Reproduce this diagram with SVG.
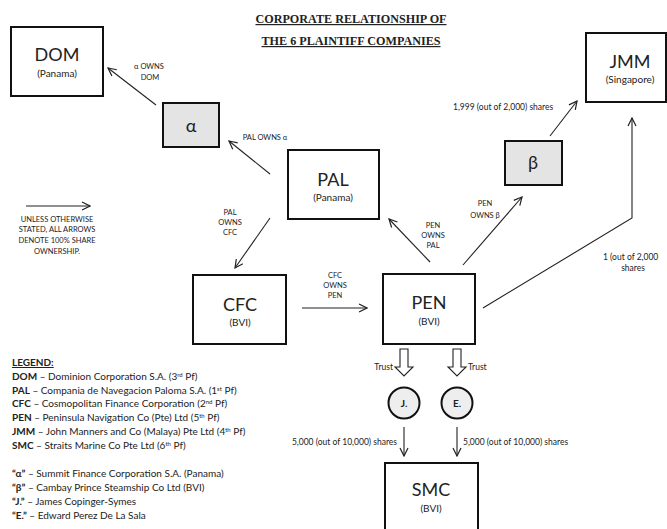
<svg xmlns="http://www.w3.org/2000/svg" width="667" height="529" viewBox="0 0 667 529">
<defs>
<marker id="ah" viewBox="0 0 10 10" refX="9" refY="5" markerWidth="10" markerHeight="10" markerUnits="userSpaceOnUse" orient="auto">
<path d="M1,1 L9,5 L1,9" fill="none" stroke="#222" stroke-width="1.2"/>
</marker>
<style>
.box{fill:#fff;stroke:#111;stroke-width:2}
.shade{fill:#e4e4e4;stroke:#111;stroke-width:2}
.big{font-family:Lato,"Liberation Sans",sans-serif;font-size:18px;fill:#222;text-anchor:middle}
.sub{font-family:Lato,"Liberation Sans",sans-serif;font-size:10px;fill:#222;text-anchor:middle}
.lbl{font-family:Lato,"Liberation Sans",sans-serif;font-size:7.5px;fill:#222;text-anchor:middle}
.lbl2{font-family:Lato,"Liberation Sans",sans-serif;font-size:8.5px;fill:#222}
.leg{font-family:Lato,"Liberation Sans",sans-serif;font-size:10px;fill:#222}
.title{font-family:"Liberation Serif",serif;font-weight:bold;font-size:12px;fill:#222;text-anchor:middle;text-decoration:underline}
.con{fill:none;stroke:#222;stroke-width:1.1;marker-end:url(#ah)}
.hollow{fill:#fff;stroke:#222;stroke-width:1.1}
</style>
</defs>
<rect width="667" height="529" fill="#fff"/>
<g id="title">
<text class="title" x="351" y="23" textLength="191" lengthAdjust="spacingAndGlyphs">CORPORATE RELATIONSHIP OF</text>
<text class="title" x="351" y="45" textLength="179" lengthAdjust="spacingAndGlyphs">THE 6 PLAINTIFF COMPANIES</text>
</g>
<g id="connectors">
<line class="con" x1="156" y1="105" x2="108" y2="68"/>
<line class="con" x1="270" y1="174" x2="229" y2="141"/>
<line class="con" x1="270" y1="218" x2="235" y2="268"/>
<line class="con" x1="302" y1="308" x2="367" y2="308"/>
<line class="con" x1="430" y1="262" x2="389" y2="219"/>
<line class="con" x1="463" y1="265" x2="522" y2="197"/>
<line class="con" x1="550" y1="136" x2="577" y2="101"/>
<polyline class="con" points="483,308 632,218 632,118"/>
<line class="con" x1="26" y1="206" x2="90" y2="206"/>
<line class="con" x1="404" y1="427" x2="404" y2="456"/>
<line class="con" x1="457" y1="427" x2="457" y2="456"/>
<polygon class="hollow" points="400,349 408,349 408,367 413,367 404,376 395,367 400,367"/>
<polygon class="hollow" points="453,349 461,349 461,367 466,367 457,376 448,367 453,367"/>
</g>
<g id="edge-labels">
<text class="lbl" x="149" y="69">α OWNS</text>
<text class="lbl" x="150" y="80">DOM</text>
<text class="lbl" x="265" y="140">PAL OWNS α</text>
<text class="lbl" x="230" y="215">PAL</text>
<text class="lbl" x="230" y="225">OWNS</text>
<text class="lbl" x="230" y="235">CFC</text>
<text class="lbl" x="335" y="278">CFC</text>
<text class="lbl" x="335" y="288">OWNS</text>
<text class="lbl" x="335" y="298">PEN</text>
<text class="lbl" x="433" y="228">PEN</text>
<text class="lbl" x="433" y="238">OWNS</text>
<text class="lbl" x="433" y="248">PAL</text>
<text class="lbl" x="485" y="206">PEN</text>
<text class="lbl" x="485" y="218">OWNS β</text>
<text class="lbl2" x="453" y="110">1,999 (out of 2,000) shares</text>
<text class="lbl2" x="603" y="260">1 (out of 2,000</text>
<text class="lbl2" x="633" y="271" text-anchor="middle">shares</text>
<text class="lbl2" x="393" y="370" text-anchor="end">Trust</text>
<text class="lbl2" x="468" y="370">Trust</text>
<text class="lbl2" x="397" y="445" text-anchor="end">5,000 (out of 10,000) shares</text>
<text class="lbl2" x="463" y="445">5,000 (out of 10,000) shares</text>
</g>
<g id="note">
<text class="lbl" x="57" y="222">UNLESS OTHERWISE</text>
<text class="lbl" x="57" y="232">STATED, ALL ARROWS</text>
<text class="lbl" x="57" y="243">DENOTE 100% SHARE</text>
<text class="lbl" x="57" y="254">OWNERSHIP.</text>
</g>
<g id="DOM">
<rect class="box" x="11" y="27" width="92" height="69"/>
<text class="big" x="57" y="61">DOM</text>
<text class="sub" x="57" y="77">(Panama)</text>
</g>
<g id="alpha">
<rect class="shade" x="163" y="103" width="56" height="44"/>
<text class="big" x="191" y="132">α</text>
</g>
<g id="PAL">
<rect class="box" x="288" y="150" width="91" height="69"/>
<text class="big" x="333" y="186">PAL</text>
<text class="sub" x="333" y="201">(Panama)</text>
</g>
<g id="JMM">
<rect class="box" x="586" y="33" width="80" height="69"/>
<text class="big" x="630" y="68">JMM</text>
<text class="sub" x="630" y="83">(Singapore)</text>
</g>
<g id="beta">
<rect class="shade" x="505" y="141" width="57" height="44"/>
<text class="big" x="533" y="169">β</text>
</g>
<g id="CFC">
<rect class="box" x="193" y="275" width="93" height="69"/>
<text class="big" x="240" y="311">CFC</text>
<text class="sub" x="240" y="326">(BVI)</text>
</g>
<g id="PEN">
<rect class="box" x="383" y="274" width="92" height="70"/>
<text class="big" x="429" y="309">PEN</text>
<text class="sub" x="429" y="325">(BVI)</text>
</g>
<g id="J">
<circle cx="404" cy="403" r="15.5" fill="#eee" stroke="#111" stroke-width="2"/>
<text class="sub" x="404" y="407" font-weight="bold" font-size="9">J.</text>
</g>
<g id="E">
<circle cx="457" cy="403" r="15.5" fill="#eee" stroke="#111" stroke-width="2"/>
<text class="sub" x="457" y="407" font-weight="bold" font-size="9">E.</text>
</g>
<g id="SMC">
<rect class="box" x="385" y="463" width="93" height="70"/>
<text class="big" x="431" y="496">SMC</text>
<text class="sub" x="431" y="512">(BVI)</text>
</g>
<g id="legend">
<text class="leg" x="12" y="366" font-weight="bold" text-decoration="underline">LEGEND:</text>
<text class="leg" x="12" y="380"><tspan font-weight="bold">DOM</tspan> – Dominion Corporation S.A. (3<tspan font-size="6" dy="-3">rd</tspan><tspan dy="3"> Pf)</tspan></text>
<text class="leg" x="12" y="394"><tspan font-weight="bold">PAL</tspan> – Compania de Navegacion Paloma S.A. (1<tspan font-size="6" dy="-3">st</tspan><tspan dy="3"> Pf)</tspan></text>
<text class="leg" x="12" y="407"><tspan font-weight="bold">CFC</tspan> – Cosmopolitan Finance Corporation (2<tspan font-size="6" dy="-3">nd</tspan><tspan dy="3"> Pf)</tspan></text>
<text class="leg" x="12" y="421"><tspan font-weight="bold">PEN</tspan> – Peninsula Navigation Co (Pte) Ltd (5<tspan font-size="6" dy="-3">th</tspan><tspan dy="3"> Pf)</tspan></text>
<text class="leg" x="12" y="435"><tspan font-weight="bold">JMM</tspan> – John Manners and Co (Malaya) Pte Ltd (4<tspan font-size="6" dy="-3">th</tspan><tspan dy="3"> Pf)</tspan></text>
<text class="leg" x="12" y="449"><tspan font-weight="bold">SMC</tspan> – Straits Marine Co Pte Ltd (6<tspan font-size="6" dy="-3">th</tspan><tspan dy="3"> Pf)</tspan></text>
<text class="leg" x="12" y="477"><tspan font-weight="bold">“α”</tspan> – Summit Finance Corporation S.A. (Panama)</text>
<text class="leg" x="12" y="491"><tspan font-weight="bold">“β”</tspan> – Cambay Prince Steamship Co Ltd (BVI)</text>
<text class="leg" x="12" y="505"><tspan font-weight="bold">“J.”</tspan> – James Copinger-Symes</text>
<text class="leg" x="12" y="519"><tspan font-weight="bold">“E.”</tspan> – Edward Perez De La Sala</text>
</g>
</svg>
